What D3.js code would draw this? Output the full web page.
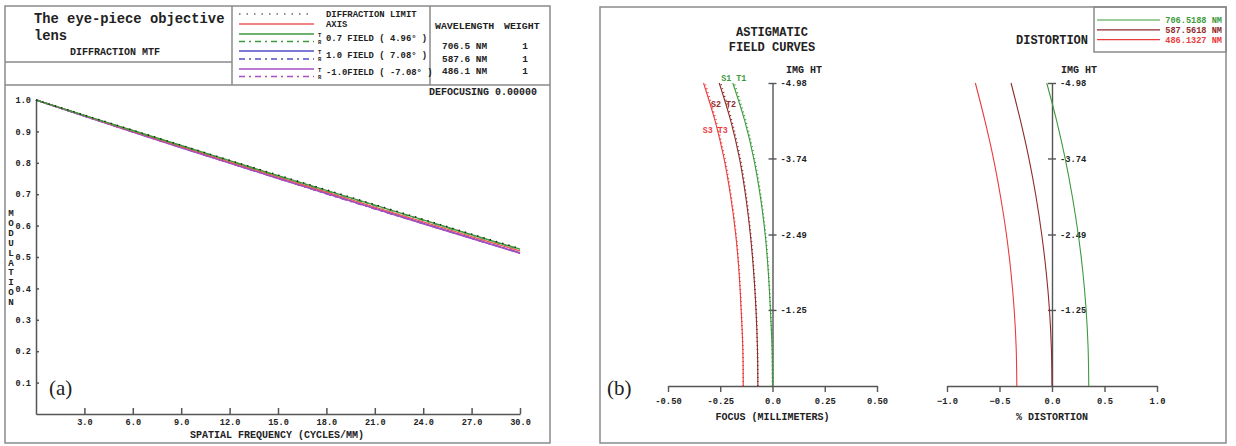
<!DOCTYPE html>
<html>
<head>
<meta charset="utf-8">
<script src="https://cdn.jsdelivr.net/npm/d3@7"></script>
<style>
    body { margin: 0; background: #fff; }
    text { font-family: "Liberation Mono", "DejaVu Sans Mono", monospace; font-weight: bold; fill: #222; }
    .serif { font-family: "Liberation Serif", "DejaVu Serif", serif; font-weight: normal; }
</style>
</head>
<body>
<div id="chart"></div>
<script>
// ---- MTF panel data ----
const freq = [0, 3, 6, 9, 12, 15, 18, 21, 24, 27, 30];
const freqTicks = [3, 6, 9, 12, 15, 18, 21, 24, 27, 30];
const modTicks = [0.1, 0.2, 0.3, 0.4, 0.5, 0.6, 0.7, 0.8, 0.9, 1.0];
const mtfDiffraction = [1.000, 0.952, 0.904, 0.856, 0.808, 0.761, 0.714, 0.667, 0.620, 0.573, 0.527];
const mtfAxis = [1.000, 0.950, 0.901, 0.852, 0.803, 0.755, 0.707, 0.659, 0.612, 0.565, 0.519];
const mtf07T = [1.000, 0.951, 0.903, 0.855, 0.807, 0.759, 0.712, 0.665, 0.618, 0.571, 0.525];
const mtf07R = [1.000, 0.951, 0.902, 0.854, 0.806, 0.758, 0.711, 0.664, 0.617, 0.570, 0.524];
const mtf10T = [1.000, 0.949, 0.899, 0.849, 0.800, 0.751, 0.703, 0.655, 0.607, 0.560, 0.513];
const mtf10R = [1.000, 0.949, 0.899, 0.849, 0.800, 0.751, 0.702, 0.654, 0.607, 0.560, 0.513];
const mtfM10T = [1.000, 0.949, 0.898, 0.848, 0.799, 0.750, 0.702, 0.654, 0.606, 0.559, 0.512];
const mtfM10R = [1.000, 0.949, 0.898, 0.848, 0.799, 0.750, 0.701, 0.653, 0.606, 0.559, 0.512];
const wavelengths = ["706.5 NM", "587.6 NM", "486.1 NM"];
const weights = [1, 1, 1];

// ---- field curves / distortion data ----
const imgHt = [0, 0.62, 1.25, 1.87, 2.49, 3.11, 3.74, 4.36, 4.98];
const imgHtTicks = [1.25, 2.49, 3.74, 4.98];
const imgHtLabels = ["-1.25", "-2.49", "-3.74", "-4.98"];
const focusTicks = [-0.5, -0.25, 0, 0.25, 0.5];
const focusLabels = ["-0.50", "-0.25", "0.0", "0.25", "0.50"];
const distTicks = [-1.0, -0.5, 0, 0.5, 1.0];
const focusS1 = [0, -0.002, -0.010, -0.020, -0.035, -0.058, -0.090, -0.133, -0.190];
const focusT1 = [0, -0.002, -0.009, -0.019, -0.033, -0.055, -0.086, -0.128, -0.183];
const focusS2 = [-0.070, -0.072, -0.079, -0.090, -0.106, -0.128, -0.158, -0.200, -0.255];
const focusT2 = [-0.070, -0.072, -0.078, -0.089, -0.104, -0.125, -0.154, -0.195, -0.248];
const focusS3 = [-0.140, -0.142, -0.150, -0.160, -0.176, -0.200, -0.232, -0.275, -0.330];
const focusT3 = [-0.140, -0.142, -0.149, -0.159, -0.174, -0.197, -0.228, -0.270, -0.323];
const dist706 = [0.350, 0.344, 0.325, 0.294, 0.250, 0.194, 0.125, 0.044, -0.050];
const dist587 = [0.000, -0.006, -0.024, -0.055, -0.098, -0.152, -0.220, -0.300, -0.390];
const dist486 = [-0.335, -0.341, -0.360, -0.391, -0.434, -0.490, -0.558, -0.639, -0.730];
const fieldWaves = ["706.5188 NM", "587.5618 NM", "486.1327 NM"];
const fieldLabels = ["S1 T1", "S2 T2", "S3 T3"];
const fieldLabelHt = [5.07, 4.64, 4.20];

const W = 1236, H = 446;
const green = "#3d9a3d", darkRed = "#8f2b2b", red = "#ea3c3c";
const frameColor = "#8a8a8a", axisColor = "#555";

const svg = d3.select("#chart").append("svg")
    .attr("width", W)
    .attr("height", H);

svg.append("rect").attr("width", W).attr("height", H).attr("fill", "#fff");

/** panel (a): diffraction MTF */
function showMtf() {
    const g = svg.append("g");

    const x = d3.scaleLinear().domain([0, 30]).range([36, 520]);
    const y = d3.scaleLinear().domain([0, 1]).range([414, 100]);

    // frame and header grid
    g.append("rect").attr("x", 5).attr("y", 6).attr("width", 545).attr("height", 437)
        .attr("fill", "none").attr("stroke", frameColor).attr("stroke-width", 1.5);
    const gridLines = [[5, 85, 550, 85], [232, 6, 232, 85], [430, 6, 430, 85], [5, 62, 232, 62]];
    g.selectAll(".grid").data(gridLines).enter().append("line")
        .attr("x1", d => d[0]).attr("y1", d => d[1]).attr("x2", d => d[2]).attr("y2", d => d[3])
        .attr("stroke", frameColor).attr("stroke-width", 1.5);

    g.append("text").attr("x", 34).attr("y", 23).style("font-size", "13.8px").text("The eye-piece objective");
    g.append("text").attr("x", 34).attr("y", 40).style("font-size", "13.8px").text("lens");
    g.append("text").attr("x", 115).attr("y", 55).attr("text-anchor", "middle").style("font-size", "10px")
        .text("DIFFRACTION MTF");

    // legend
    const legend = [
        {label: "DIFFRACTION LIMIT", ty: 17, rows: [{y: 14, c: "#222", dash: "1.5,6"}]},
        {label: "AXIS", ty: 27, rows: [{y: 24, c: "#ef5a5a", dash: null}]},
        {label: "0.7 FIELD ( 4.96\u00b0 )", ty: 41, tr: true, rows: [{y: 34, c: green, dash: null}, {y: 41.5, c: green, dash: "6,4,2,4"}]},
        {label: "1.0 FIELD ( 7.08\u00b0 )", ty: 58, tr: true, rows: [{y: 51, c: "#5050c8", dash: null}, {y: 59, c: "#5050c8", dash: "6,4,2,4"}]},
        {label: "-1.0FIELD ( -7.08\u00b0 )", ty: 75, tr: true, rows: [{y: 69, c: "#a64fc0", dash: null}, {y: 76.5, c: "#a64fc0", dash: "6,4,2,4"}]}
    ];
    legend.forEach(d => {
        d.rows.forEach(r => {
            g.append("line").attr("x1", 239).attr("x2", 314).attr("y1", r.y).attr("y2", r.y)
                .attr("stroke", r.c).attr("stroke-width", d.label === "DIFFRACTION LIMIT" ? 1.2 : 1.4)
                .attr("stroke-dasharray", r.dash);
        });
        g.append("text").attr("x", 326).attr("y", d.ty).style("font-size", "8.9px").text(d.label);
        if (d.tr) {
            g.append("text").attr("x", 318).attr("y", d.rows[0].y + 3).style("font-size", "5.5px").text("T");
            g.append("text").attr("x", 318).attr("y", d.rows[1].y + 2).style("font-size", "5.5px").text("R");
        }
    });

    g.append("text").attr("x", 435).attr("y", 29).style("font-size", "9.9px").text("WAVELENGTH");
    g.append("text").attr("x", 504).attr("y", 29).style("font-size", "9.9px").text("WEIGHT");
    wavelengths.forEach((w, i) => {
        g.append("text").attr("x", 442).attr("y", 49 + i * 12.5).style("font-size", "9.4px").text(w);
        g.append("text").attr("x", 525).attr("y", 49 + i * 12.5).attr("text-anchor", "middle")
            .style("font-size", "9.4px").text(weights[i]);
    });

    g.append("text").attr("x", 537).attr("y", 95).attr("text-anchor", "end").style("font-size", "10px")
        .text("DEFOCUSING 0.00000");

    // axes
    const xAxis = d3.axisBottom(x)
        .tickValues(freqTicks)
        .tickSizeInner(-6)
        .tickSizeOuter(0)
        .tickPadding(5)
        .tickFormat(d3.format(".1f"));
    const yAxis = d3.axisLeft(y)
        .tickValues(modTicks)
        .tickSizeInner(-3)
        .tickSizeOuter(0)
        .tickPadding(5)
        .tickFormat(d3.format(".1f"));

    const gx = g.append("g").attr("transform", "translate(0," + y(0) + ")").call(xAxis);
    const gy = g.append("g").attr("transform", "translate(" + x(0) + ",0)").call(yAxis);
    [gx, gy].forEach(a => {
        a.selectAll("path, line").attr("stroke", axisColor).attr("stroke-width", 1.5);
        a.selectAll("text").style("font-size", "8.6px").style("font-family", null).attr("fill", "#222");
    });

    g.append("text").attr("x", 277).attr("y", 438).attr("text-anchor", "middle").style("font-size", "10px")
        .text("SPATIAL FREQUENCY (CYCLES/MM)");
    g.selectAll(".ylab").data("MODULATION".split("")).enter().append("text")
        .attr("x", 11).attr("y", (d, i) => 216 + i * 9.9).attr("text-anchor", "middle")
        .style("font-size", "9.2px").text(d => d);

    g.append("text").attr("class", "serif").attr("x", 49).attr("y", 395).style("font-size", "21px").text("(a)");

    // curves
    const line = d3.line().x((d, i) => x(freq[i])).y(d => y(d)).curve(d3.curveMonotoneX);
    const series = [
        {v: mtf10T, c: "#5050c8", dash: null},
        {v: mtf10R, c: "#5050c8", dash: "6,4,2,4"},
        {v: mtfM10T, c: "#a64fc0", dash: null},
        {v: mtfM10R, c: "#a64fc0", dash: "6,4,2,4"},
        {v: mtfAxis, c: "#ef5a5a", dash: null},
        {v: mtf07T, c: green, dash: null},
        {v: mtf07R, c: green, dash: "6,4,2,4"},
        {v: mtfDiffraction, c: "#222", dash: "1.5,5"}
    ];
    g.selectAll(".mtf").data(series).enter().append("path")
        .attr("d", d => line(d.v))
        .attr("fill", "none")
        .attr("stroke", d => d.c)
        .attr("stroke-width", 1.4)
        .attr("stroke-dasharray", d => d.dash);
}

/** panel (b): field curves and distortion */
function showField() {
    const g = svg.append("g");

    g.append("rect").attr("x", 600).attr("y", 7).attr("width", 626).attr("height", 436)
        .attr("fill", "none").attr("stroke", frameColor).attr("stroke-width", 1.5);
    g.append("rect").attr("x", 1094).attr("y", 7).attr("width", 132).attr("height", 45)
        .attr("fill", "none").attr("stroke", frameColor).attr("stroke-width", 1.5);

    const waveColors = [green, darkRed, red];
    fieldWaves.forEach((w, i) => {
        const ly = 20 + i * 9.8;
        g.append("line").attr("x1", 1097).attr("x2", 1160).attr("y1", ly).attr("y2", ly)
            .attr("stroke", waveColors[i]).attr("stroke-width", 1.2);
        g.append("text").attr("x", 1222).attr("y", ly + 3).attr("text-anchor", "end")
            .style("font-size", "8.6px").style("fill", waveColors[i]).text(w);
    });

    g.append("text").attr("x", 772).attr("y", 36).attr("text-anchor", "middle").style("font-size", "12px").text("ASTIGMATIC");
    g.append("text").attr("x", 772).attr("y", 51).attr("text-anchor", "middle").style("font-size", "12px").text("FIELD CURVES");
    g.append("text").attr("x", 1088).attr("y", 44).attr("text-anchor", "end").style("font-size", "12px").text("DISTORTION");

    const fy = d3.scaleLinear().domain([0, 4.98]).range([386, 83]);
    const fx = d3.scaleLinear().domain([-0.5, 0.5]).range([668, 877]);
    const dx = d3.scaleLinear().domain([-1, 1]).range([947, 1157]);

    function drawAxes(xs, ticks, labels, title, titleX) {
        const xAxis = d3.axisBottom(xs)
            .tickValues(ticks)
            .tickSizeInner(6)
            .tickSizeOuter(0)
            .tickPadding(6)
            .tickFormat((d, i) => labels[i]);
        const yAxis = d3.axisRight(fy)
            .tickValues(imgHtTicks)
            .tickSizeInner(4)
            .tickSizeOuter(0)
            .tickPadding(4)
            .tickFormat((d, i) => imgHtLabels[i]);
        const gx = g.append("g").attr("transform", "translate(0," + fy(0) + ")").call(xAxis);
        const gy = g.append("g").attr("transform", "translate(" + xs(0) + ",0)").call(yAxis);
        gy.selectAll(".tick line").attr("x1", -4);
        [gx, gy].forEach(a => {
            a.selectAll("path, line").attr("stroke", axisColor).attr("stroke-width", 1.4);
            a.selectAll("text").style("font-size", "8.8px").style("font-family", null).attr("fill", "#222");
        });
        g.append("text").attr("x", xs(0)).attr("y", 420).attr("text-anchor", "middle")
            .style("font-size", "10px").text(title);
        g.append("text").attr("x", titleX).attr("y", 73).style("font-size", "10px").text("IMG HT");
    }

    drawAxes(fx, focusTicks, focusLabels, "FOCUS (MILLIMETERS)", 786);
    drawAxes(dx, distTicks, distTicks.map(d3.format(".1f")), "% DISTORTION", 1061);

    const fieldLine = xs => d3.line().x(d => xs(d)).y((d, i) => fy(imgHt[i])).curve(d3.curveCatmullRom);
    const focusSeries = [
        {v: focusS3, c: red, dash: null}, {v: focusT3, c: red, dash: "1,3"},
        {v: focusS2, c: darkRed, dash: null}, {v: focusT2, c: darkRed, dash: "1,3"},
        {v: focusS1, c: green, dash: null}, {v: focusT1, c: green, dash: "1,3"}
    ];
    g.selectAll(".focus").data(focusSeries).enter().append("path")
        .attr("d", d => fieldLine(fx)(d.v))
        .attr("fill", "none")
        .attr("stroke", d => d.c)
        .attr("stroke-width", d => d.dash ? 1.6 : 1.1)
        .attr("stroke-dasharray", d => d.dash);

    const distSeries = [{v: dist486, c: red}, {v: dist587, c: darkRed}, {v: dist706, c: green}];
    g.selectAll(".dist").data(distSeries).enter().append("path")
        .attr("d", d => fieldLine(dx)(d.v))
        .attr("fill", "none")
        .attr("stroke", d => d.c)
        .attr("stroke-width", 1.1);

    // S/T labels sit on their curves
    const sCurves = [focusS1, focusS2, focusS3];
    fieldLabels.forEach((lab, i) => {
        const h = Math.min(fieldLabelHt[i], 4.98);
        const xv = d3.scaleLinear().domain(imgHt).range(sCurves[i])(h);
        g.append("text").attr("x", fx(xv) - (i === 0 ? -1 : 2)).attr("y", fy(fieldLabelHt[i]) + 3)
            .attr("text-anchor", "middle").style("font-size", "8.4px").style("fill", waveColors[i]).text(lab);
    });

    g.append("text").attr("class", "serif").attr("x", 607).attr("y", 395).style("font-size", "21px").text("(b)");
}

showMtf();
showField();
</script>
</body>
</html>
